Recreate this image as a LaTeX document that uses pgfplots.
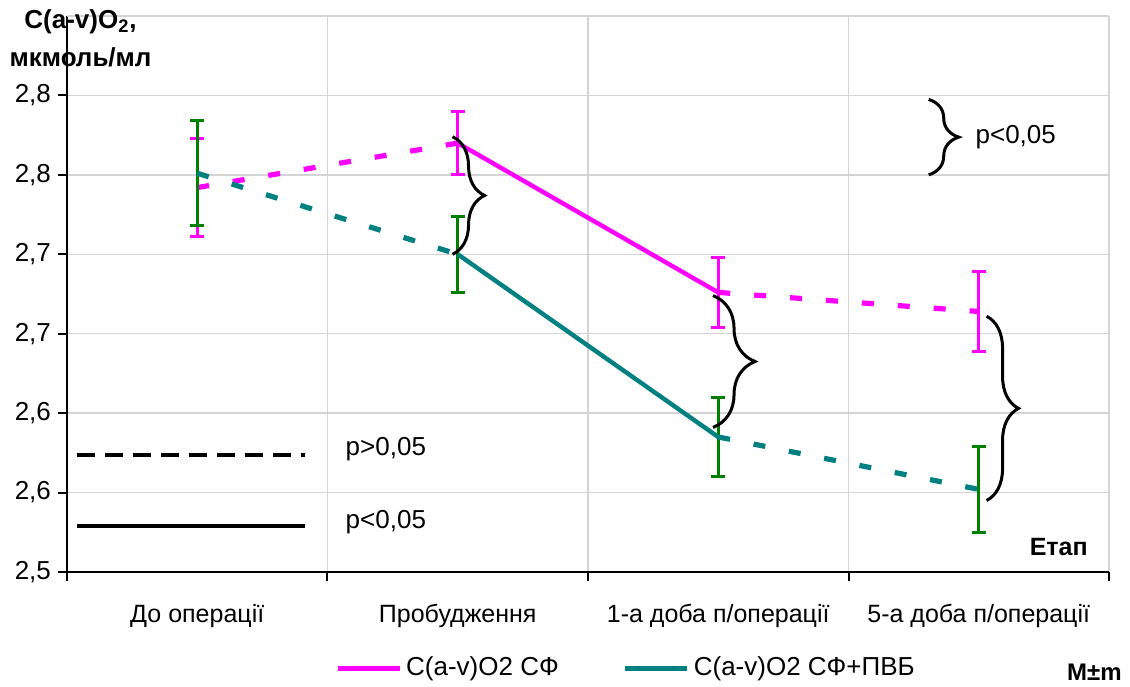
\documentclass[border=0pt]{standalone}
\usepackage{fontspec}
\setmainfont{Liberation Sans}
\usepackage{pgfplots}
\pgfplotsset{compat=1.18}
\usetikzlibrary{decorations.pathreplacing}

\definecolor{pinkline}{HTML}{FF00FF}
\definecolor{tealline}{HTML}{008080}
\definecolor{greenbar}{HTML}{008000}
\definecolor{gridgray}{HTML}{D4D4D4}

% stage, mean, m
\pgfplotstableread{
x y e
0 2.742 0.031
1 2.770 0.020
2 2.676 0.022
3 2.664 0.025
}\tabSF
\pgfplotstableread{
x y e
0 2.751 0.033
1 2.700 0.024
2 2.585 0.025
3 2.552 0.027
}\tabPVB

\begin{document}
\begin{tikzpicture}
\useasboundingbox (-33.5pt,-57pt) rectangle (531.5pt,286pt);
\begin{axis}[
    at={(0pt,0pt)}, anchor=south west,
    scale only axis, width=521pt, height=278pt,
    xmin=-0.5, xmax=3.5, ymin=2.5, ymax=2.85,
    axis lines=left,
    axis line style={-, line width=1pt, black},
    clip=false,
    tick align=outside,
    xtick={0,1,2,3},
    xticklabels={До операції, Пробудження, 1-а доба п/операції, 5-а доба п/операції},
    minor xtick={-0.5,0.5,1.5,2.5,3.5},
    major x tick style={draw=none},
    minor x tick style={black, line width=1pt},
    minor tick length=4.5pt,
    major tick length=4.5pt,
    ytick={2.5,2.55,2.6,2.65,2.7,2.75,2.8},
    yticklabels={{2,5},{2,6},{2,6},{2,7},{2,7},{2,8},{2,8}},
    y tick style={black, line width=1pt},
    xminorgrids=true, ymajorgrids=true,
    minor grid style={gridgray, line width=0.7pt},
    major grid style={gridgray, line width=0.7pt},
    xticklabel style={font=\fontsize{12.5}{14}\selectfont, yshift=-8pt},
    yticklabel style={font=\fontsize{13}{15}\selectfont},
    legend style={at={(0.257,-0.1727)}, anchor=west, draw=none, inner sep=0pt,
        font=\fontsize{13}{15}\selectfont, legend columns=2,
        /tikz/every even column/.append style={column sep=30pt}},
    legend image code/.code={\draw[#1] (0pt,0pt) -- (31pt,0pt);},
]
\draw[gridgray, line width=0.7pt] (rel axis cs:0,1) -- (rel axis cs:1,1);

\addlegendimage{pinkline, line width=2.5pt}
\addlegendentry{C(a-v)O2 СФ}
\addlegendimage{tealline, line width=2.5pt}
\addlegendentry{C(a-v)O2 СФ+ПВБ}

% C(a-v)O2 SF
\addplot[pinkline, line width=2.6pt, dash pattern=on 6pt off 12pt, forget plot,
    restrict x to domain=0:1] table[x=x, y=y] {\tabSF};
\addplot[pinkline, line width=2.2pt, forget plot,
    restrict x to domain=1:2] table[x=x, y=y] {\tabSF};
\addplot[pinkline, line width=2.6pt, dash pattern=on 6pt off 12pt, forget plot,
    restrict x to domain=2:3] table[x=x, y=y] {\tabSF};
\addplot[draw=none, mark=none, forget plot,
    error bars/.cd, y dir=both, y explicit,
    error bar style={draw=pinkline, line width=1.5pt, solid},
    error mark=-,
    error mark options={draw=pinkline, line width=1.5pt, mark size=3.5pt, rotate=90}]
    table[x=x, y=y, y error=e] {\tabSF};

% C(a-v)O2 SF+PVB
\addplot[draw=none, mark=none, forget plot,
    error bars/.cd, y dir=both, y explicit,
    error bar style={draw=greenbar, line width=1.5pt, solid},
    error mark=-,
    error mark options={draw=greenbar, line width=1.5pt, mark size=3.5pt, rotate=90}]
    table[x=x, y=y, y error=e] {\tabPVB};
\addplot[tealline, line width=2.6pt, dash pattern=on 6pt off 12pt, forget plot,
    restrict x to domain=0:1] table[x=x, y=y] {\tabPVB};
\addplot[tealline, line width=2.2pt, forget plot,
    restrict x to domain=1:2] table[x=x, y=y] {\tabPVB};
\addplot[tealline, line width=2.6pt, dash pattern=on 6pt off 12pt, forget plot,
    restrict x to domain=2:3] table[x=x, y=y] {\tabPVB};

% braces
\draw[line width=1.5pt, decorate, decoration={brace, amplitude=16pt}]
    (axis cs:0.98,2.774) -- (axis cs:0.98,2.700);
\draw[line width=1.5pt, decorate, decoration={brace, amplitude=21pt}]
    (axis cs:1.98,2.674) -- (axis cs:1.98,2.591);
\draw[line width=1.5pt, decorate, decoration={brace, amplitude=16pt}]
    (axis cs:3.03,2.661) -- (axis cs:3.03,2.545);
\draw[line width=1.5pt, decorate, decoration={brace, amplitude=15pt}]
    (axis cs:2.808,2.7975) -- (axis cs:2.808,2.750);
\node[font=\fontsize{13}{15}\selectfont] at (axis cs:3.142,2.774) {p<0,05};

% line style key
\draw[black, line width=2pt, dash pattern=on 9pt off 5pt]
    (axis cs:-0.46,2.5737) -- (axis cs:0.414,2.5737);
\draw[black, line width=2pt]
    (axis cs:-0.46,2.529) -- (axis cs:0.414,2.529);
\node[font=\fontsize{13}{15}\selectfont] at (axis cs:0.724,2.5775) {p>0,05};
\node[font=\fontsize{13}{15}\selectfont] at (axis cs:0.724,2.5315) {p<0,05};

% labels
\node[font=\bfseries\fontsize{12.5}{14}\selectfont] at (axis cs:3.307,2.5158) {Етап};
\node[font=\bfseries\fontsize{12}{14}\selectfont, anchor=east, inner sep=0pt] at (axis cs:3.55,2.437) {M±m};
\node[font=\bfseries\fontsize{13}{15}\selectfont] at (axis cs:-0.448,2.8466) {C(a-v)O\textsubscript{2},};
\node[font=\bfseries\fontsize{13}{15}\selectfont] at (axis cs:-0.448,2.824) {мкмоль/мл};
\end{axis}
\end{tikzpicture}
\end{document}
